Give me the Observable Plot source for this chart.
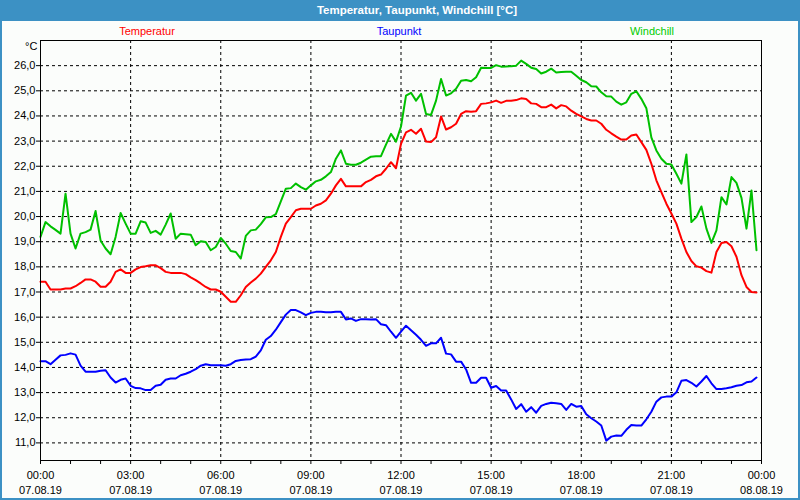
<!DOCTYPE html>
<html><head><meta charset="utf-8">
<script src="https://cdn.jsdelivr.net/npm/d3@7"></script>
<script src="https://cdn.jsdelivr.net/npm/@observablehq/plot@0.6"></script>
<style>
html,body{margin:0;padding:0;}
body{width:800px;height:500px;background:#3c91c4;position:relative;overflow:hidden;font-family:"Liberation Sans",Arial,sans-serif;}
#title{position:absolute;left:417px;top:0;height:21px;line-height:21px;color:#fff;font-weight:bold;font-size:11.5px;transform:translateX(-50%);white-space:nowrap;}
#panel{position:absolute;left:2px;top:21px;width:796px;height:477px;background:#fbfdfb;}
.leg{position:absolute;top:4px;line-height:13px;font-size:11px;transform:translateX(-50%);white-space:nowrap;}
#unit{position:absolute;left:23px;top:19px;line-height:13px;font-size:11px;color:#000;}
#chart{position:absolute;left:0;top:0;}
</style></head>
<body>
<div id="title">Temperatur, Taupunkt, Windchill [°C]</div>
<div id="panel">
  <div id="chart"></div>
  <span class="leg" id="leg0" style="left:145px;color:#ff0000">Temperatur</span>
  <span class="leg" id="leg1" style="left:397px;color:#0000ff">Taupunkt</span>
  <span class="leg" id="leg2" style="left:650px;color:#00cc00">Windchill</span>
  <span id="unit">°C</span>
</div>
<script>
// Series names and colours
const seriesNames = ["Temperatur", "Taupunkt", "Windchill"];
const seriesColors = ["#ff0000", "#0000ff", "#00c000"];

// Readings every 10 minutes from 07.08.19 00:00 (UTC clock) – 144 values each
const temperatur = [
17.41,17.41,17.1,17.1,17.1,17.14,17.14,17.23,17.36,17.5,17.5,17.41,17.21,17.21,17.41,17.8,17.9,17.76,17.76,17.9,
17.99,18.02,18.06,18.06,17.95,17.8,17.76,17.76,17.76,17.71,17.58,17.47,17.34,17.2,17.1,17.1,17.01,16.81,16.61,16.61,
16.87,17.2,17.38,17.53,17.73,18.0,18.26,18.59,19.19,19.72,19.98,20.25,20.31,20.31,20.31,20.44,20.51,20.64,20.91,21.24,
21.5,21.2,21.2,21.2,21.2,21.37,21.46,21.6,21.67,21.9,22.16,21.92,22.89,23.35,23.45,23.29,23.49,22.98,22.96,23.15,
23.98,23.46,23.55,23.69,24.08,24.19,24.17,24.19,24.48,24.5,24.54,24.61,24.52,24.6,24.6,24.63,24.7,24.67,24.5,24.48,
24.35,24.35,24.45,24.3,24.43,24.38,24.21,24.08,23.98,23.88,23.82,23.82,23.69,23.45,23.31,23.18,23.06,23.06,23.22,23.26,
22.96,22.65,22.1,21.44,20.97,20.51,20.12,19.72,19.12,18.59,18.23,18.02,17.97,17.83,17.77,18.59,18.95,18.99,18.82,18.4,
17.67,17.2,17.0,16.98];

const taupunkt = [
14.25,14.25,14.13,14.31,14.48,14.5,14.56,14.51,14.07,13.83,13.83,13.83,13.87,13.89,13.6,13.4,13.51,13.56,13.27,13.18,
13.17,13.1,13.1,13.27,13.31,13.51,13.56,13.56,13.69,13.75,13.83,13.93,14.07,14.13,14.09,14.09,14.09,14.07,14.13,14.26,
14.3,14.32,14.33,14.43,14.68,15.1,15.25,15.5,15.8,16.1,16.28,16.28,16.19,16.08,16.17,16.21,16.21,16.19,16.19,16.21,
16.21,15.91,15.95,15.85,15.92,15.92,15.91,15.92,15.72,15.68,15.42,15.18,15.42,15.66,15.48,15.3,15.1,14.86,14.96,14.96,
15.18,14.55,14.52,14.23,14.23,13.92,13.39,13.39,13.59,13.59,13.19,13.26,13.08,13.08,12.73,12.35,12.54,12.24,12.42,12.2,
12.47,12.55,12.6,12.58,12.55,12.31,12.55,12.44,12.47,12.14,11.98,11.85,11.69,11.09,11.25,11.29,11.28,11.52,11.71,11.69,
11.69,11.94,12.24,12.64,12.81,12.84,12.84,13.01,13.47,13.5,13.39,13.24,13.44,13.66,13.37,13.14,13.14,13.17,13.21,13.27,
13.3,13.41,13.44,13.6];

const windchill = [
19.19,19.78,19.61,19.47,19.32,20.91,19.32,18.73,19.32,19.38,19.48,20.22,19.05,18.73,18.5,19.19,20.14,19.72,19.32,19.32,
19.81,19.76,19.35,19.43,19.28,19.68,20.12,19.12,19.32,19.3,19.28,18.86,19.02,18.99,18.66,18.79,19.15,18.92,18.63,18.59,
18.33,19.23,19.45,19.48,19.7,19.97,19.98,20.1,20.6,21.11,21.13,21.31,21.17,21.07,21.24,21.4,21.46,21.6,21.77,22.3,
22.63,22.1,22.06,22.06,22.14,22.26,22.38,22.4,22.4,22.86,23.29,22.98,23.58,24.81,24.92,24.61,24.88,24.08,24.04,24.61,
25.47,24.81,24.9,25.08,25.4,25.43,25.38,25.54,25.92,25.91,25.91,26.02,25.96,25.97,25.98,26.0,26.2,26.07,25.92,25.87,
25.69,25.76,25.88,25.73,25.75,25.76,25.76,25.6,25.43,25.34,25.18,25.17,24.94,24.78,24.77,24.57,24.45,24.54,24.88,24.98,
24.68,24.31,23.15,22.63,22.3,22.1,22.07,21.7,21.31,22.47,19.78,19.98,20.4,19.52,18.95,19.45,20.77,20.48,21.57,21.34,
20.74,19.52,21.04,18.66];

// Axis ticks
const yTicks = [11,12,13,14,15,16,17,18,19,20,21,22,23,24,25,26];
const startTime = Date.UTC(2019, 7, 7, 0, 0);
const endTime = Date.UTC(2019, 7, 8, 0, 0);
const stepMinutes = 10;

const allSeries = [temperatur, taupunkt, windchill];
const rows = [];
allSeries.forEach((vals, si) => vals.forEach((v, i) => rows.push({
  t: new Date(startTime + i * stepMinutes * 60000), v, s: seriesNames[si]
})));

const majorTicks = d3.utcHours(new Date(startTime), new Date(endTime + 1), 3);
const hourTicks = d3.utcHours(new Date(startTime), new Date(endTime + 1), 1);
const fmtY = d => d.toFixed(1).replace(".", ",");

const chart = Plot.plot({
  width: 796, height: 477,
  marginLeft: 38, marginRight: 37, marginTop: 19, marginBottom: 38,
  style: {fontFamily: "Liberation Sans, Arial, sans-serif", fontSize: "11px", background: "transparent", color: "#000", overflow: "visible"},
  x: {type: "utc", domain: [new Date(startTime), new Date(endTime)]},
  y: {domain: [10.3, 27.0]},
  color: {domain: seriesNames, range: seriesColors},
  marks: [
    Plot.gridY(yTicks, {stroke: "#000", strokeOpacity: 1, strokeDasharray: "3,3"}),
    Plot.gridX(majorTicks, {stroke: "#000", strokeOpacity: 1, strokeDasharray: "3,3"}),
    Plot.axisY(yTicks, {tickSize: 4, tickPadding: 1, tickFormat: fmtY, label: null}),
    Plot.axisX(hourTicks, {tickSize: 4, tickFormat: () => "", label: null}),
    Plot.axisX(majorTicks, {tickSize: 0, tickPadding: 11, tickFormat: d3.utcFormat("%H:%M"), label: null}),
    Plot.axisX(majorTicks, {tickSize: 0, tickPadding: 26, tickFormat: d3.utcFormat("%d.%m.%y"), label: null}),
    Plot.lineY(rows, {x: "t", y: "v", z: "s", stroke: "s", strokeWidth: 2}),
    Plot.frame({stroke: "#000"})
  ]
});
document.getElementById("chart").appendChild(chart);
</script>
</body></html>
